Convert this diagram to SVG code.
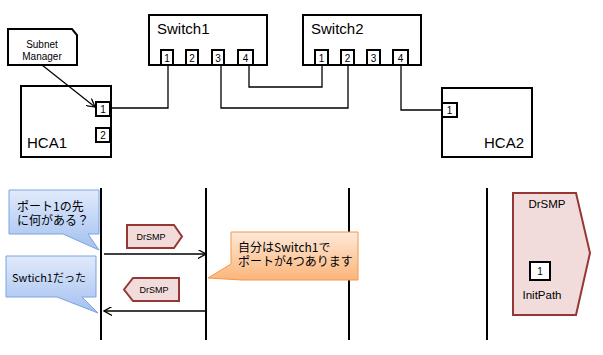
<svg xmlns="http://www.w3.org/2000/svg" width="603" height="355" viewBox="0 0 603 355">
<defs>
<style>
.box{fill:#fff;stroke:#000;stroke-width:2}
.port{fill:#fff;stroke:#000;stroke-width:2}
.pn{font-family:"Liberation Sans",Arial,sans-serif;font-size:10px;text-anchor:middle;fill:#000}
.big{font-family:"Liberation Sans",Arial,sans-serif;font-size:15px;fill:#000}
.wire{fill:none;stroke:#000;stroke-width:1.3}
.life{stroke:#000;stroke-width:2}
.msg{fill:none;stroke:#000;stroke-width:1.5}
.smp{fill:#f2dcdb;stroke:#953735;stroke-width:2}
.st{font-family:"Liberation Sans",Arial,sans-serif;font-size:9px;text-anchor:middle;fill:#000}
.lg{font-family:"Liberation Sans",Arial,sans-serif;font-size:11.5px;text-anchor:middle;fill:#000}
.sm{font-family:"Liberation Sans",Arial,sans-serif;font-size:10px;text-anchor:middle;fill:#000}
.jp{font-family:"Noto Sans CJK JP","Noto Sans",sans-serif;font-size:12px;fill:#000}
.jps{font-family:"Noto Sans CJK JP","Noto Sans",sans-serif;font-size:11px;fill:#000}
</style>
<linearGradient id="gb" x1="0" y1="0" x2="0" y2="1">
<stop offset="0" stop-color="#e1eafb"/>
<stop offset="1" stop-color="#a3c0f0"/>
</linearGradient>
<linearGradient id="go" x1="0" y1="0" x2="0" y2="1">
<stop offset="0" stop-color="#fde9d9"/>
<stop offset="1" stop-color="#fbb57a"/>
</linearGradient>
<marker id="oa" viewBox="0 0 10 10" refX="9" refY="5" markerWidth="9" markerHeight="9" markerUnits="userSpaceOnUse" orient="auto">
<path d="M0,0 L9,5 L0,10" fill="none" stroke="#000" stroke-width="1.4"/>
</marker>
</defs>

<g id="switch1">
<rect class="box" x="149" y="15" width="118" height="50"/>
<text class="big" x="157" y="34">Switch1</text>
<rect class="port" x="161" y="50" width="12" height="15"/><text class="pn" x="167" y="62">1</text>
<rect class="port" x="186" y="50" width="12" height="15"/><text class="pn" x="192" y="62">2</text>
<rect class="port" x="212" y="50" width="12" height="15"/><text class="pn" x="218" y="62">3</text>
<rect class="port" x="238" y="50" width="15" height="15"/><text class="pn" x="245.5" y="62">4</text>
</g>

<g id="switch2">
<rect class="box" x="303" y="15" width="118" height="50"/>
<text class="big" x="311" y="34">Switch2</text>
<rect class="port" x="315" y="50" width="13" height="15"/><text class="pn" x="321.5" y="62">1</text>
<rect class="port" x="341" y="50" width="13" height="15"/><text class="pn" x="347.5" y="62">2</text>
<rect class="port" x="367" y="50" width="13" height="15"/><text class="pn" x="373.5" y="62">3</text>
<rect class="port" x="393" y="50" width="15" height="15"/><text class="pn" x="400.5" y="62">4</text>
</g>

<g id="hca1">
<rect class="box" x="21" y="86" width="90" height="71"/>
<text class="big" x="27" y="148">HCA1</text>
<rect class="port" x="96" y="102" width="14" height="14"/><text class="pn" x="103" y="113">1</text>
<rect class="port" x="96" y="128" width="14" height="14"/><text class="pn" x="103" y="139">2</text>
</g>

<g id="hca2">
<rect class="box" x="442" y="88" width="90" height="69"/>
<text class="big" x="524" y="148" text-anchor="end">HCA2</text>
<rect class="port" x="442" y="103" width="15" height="14"/><text class="pn" x="449.5" y="114">1</text>
</g>

<g id="subnet-manager">
<path d="M8,29 H72 L77,35 V65 H8 Z" fill="#fff" stroke="#000" stroke-width="2"/>
<text class="sm" x="42" y="48">Subnet<tspan x="42" y="60">Manager</tspan></text>
</g>

<g id="connectors">
<path class="wire" d="M110,108 H168 V65"/>
<path class="wire" d="M221,65 V108 H348 V65"/>
<path class="wire" d="M249,65 V87 H322 V65"/>
<path class="wire" d="M401,65 V110 H442"/>
<path d="M42,65 L95,107" fill="none" stroke="#000" stroke-width="1.2" marker-end="url(#oa)"/>
</g>

<g id="lifelines">
<line class="life" x1="101" y1="188" x2="101" y2="340"/>
<line class="life" x1="206" y1="188" x2="206" y2="340"/>
<line class="life" x1="349" y1="188" x2="349" y2="340"/>
<line class="life" x1="487" y1="188" x2="487" y2="340"/>
</g>

<g id="callout-question">
<path d="M9,190 H99 V234 H88 L99,250 L63,234 H9 Z" fill="url(#gb)" stroke="#7aa3e0" stroke-width="1"/>
<text class="jp" x="17" y="211">ポート1の先<tspan x="17" y="225">に何がある？</tspan></text>
</g>

<g id="callout-answer">
<path d="M6,256 H96 V297 H82 L98,313 L57,297 H6 Z" fill="url(#gb)" stroke="#7aa3e0" stroke-width="1"/>
<text class="jps" x="12" y="282">Swtich1だった</text>
</g>

<g id="callout-switch">
<path d="M231,232 H358 V280 H242 L208,278 L231,264 Z" fill="url(#go)" stroke="#f79646" stroke-width="1"/>
<text class="jp" x="238" y="252">自分はSwitch1で<tspan x="238" y="266">ポートが4つあります</tspan></text>
</g>

<g id="messages">
<line class="msg" x1="104" y1="254" x2="206" y2="254" marker-end="url(#oa)"/>
<line class="msg" x1="206" y1="311" x2="104" y2="311" marker-end="url(#oa)"/>
</g>

<g id="drsmp-request">
<polygon class="smp" points="127,225 174,225 182,236.5 174,248 127,248"/>
<text class="st" x="151" y="240">DrSMP</text>
</g>

<g id="drsmp-response">
<polygon class="smp" points="124,289.5 133,278 179,278 179,301 133,301"/>
<text class="st" x="154" y="293">DrSMP</text>
</g>

<g id="drsmp-legend">
<polygon class="smp" points="513,193 576,193 590,253 576,315 513,315"/>
<text class="lg" x="547" y="208">DrSMP</text>
<rect x="530" y="262" width="20" height="18" fill="#fff" stroke="#000" stroke-width="2"/>
<text class="sm" x="540" y="275">1</text>
<text class="lg" x="542" y="299">InitPath</text>
</g>
</svg>
